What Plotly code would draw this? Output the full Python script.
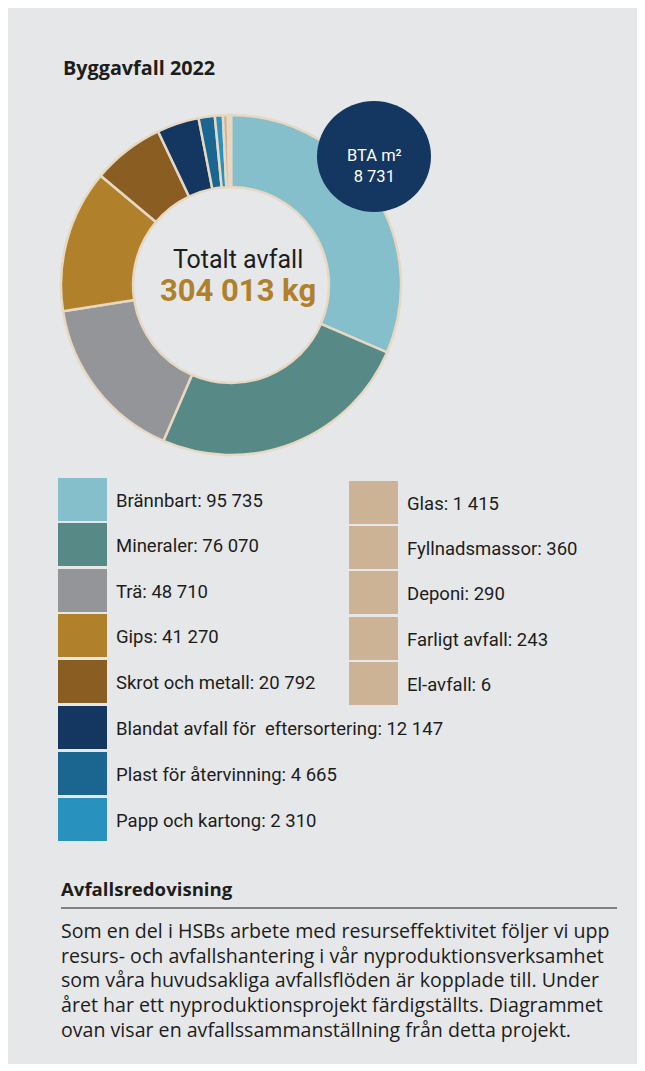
import plotly.graph_objects as go

# the page adds an 8 px body margin, figure sits inside it
W, H = 630, 1056
OFF = 8

# data
categories = ["Brännbart", "Mineraler", "Trä", "Gips", "Skrot och metall",
              "Blandat avfall för  eftersortering", "Plast för återvinning",
              "Papp och kartong", "Glas", "Fyllnadsmassor", "Deponi",
              "Farligt avfall", "El-avfall"]
values = [95735, 76070, 48710, 41270, 20792, 12147, 4665, 2310, 1415, 360, 290, 243, 6]
value_labels = ["95 735", "76 070", "48 710", "41 270", "20 792", "12 147", "4 665",
                "2 310", "1 415", "360", "290", "243", "6"]
colors = ["#85bfcc", "#578a86", "#939598", "#b0812a", "#8a5e22", "#143761", "#1b6691",
          "#2891be", "#cdb395", "#cdb395", "#cdb395", "#cdb395", "#cdb395"]
total_label = "304 013 kg"
bta_label = "8 731"
body_lines = [
    "Som en del i HSBs arbete med resurseffektivitet följer vi upp",
    "resurs- och avfallshantering i vår nyproduktionsverksamhet",
    "som våra huvudsakliga avfallsflöden är kopplade till. Under",
    "året har ett nyproduktionsprojekt färdigställts. Diagrammet",
    "ovan visar en avfallssammanställning från detta projekt.",
]

font = "Roboto"
font_wide = "Open Sans"
ink = "#1d1d1b"
beige_line = "#e6d8c2"


def px(x):
    return (x - OFF) / W


def py(y):
    return 1 - (y - OFF) / H


def label(x, y, text, size, color=ink, xanchor="center", family=font, align="center"):
    return dict(x=px(x), y=py(y), xref="paper", yref="paper",
                xanchor=xanchor, yanchor="middle", align=align, text=text,
                showarrow=False, font=dict(family=family, size=size, color=color))


fig = go.Figure()

fig.add_trace(go.Pie(
    labels=categories,
    values=values,
    sort=False,
    direction="clockwise",
    rotation=0,
    hole=0.576,
    marker=dict(colors=colors, line=dict(color=beige_line, width=2.5)),
    textinfo="none",
    showlegend=False,
    domain=dict(x=[px(61), px(401)], y=[py(455), py(115)]),
))

shapes = []
annotations = []

# BTA circle
shapes.append(dict(type="circle", xref="paper", yref="paper",
                   x0=px(317), x1=px(431), y0=py(212), y1=py(101),
                   fillcolor="#143761", line=dict(width=0)))
annotations.append(label(374, 166, "BTA m²<br>" + bta_label, 16.5, "white"))

# title
annotations.append(label(61, 68, "<b>Byggavfall 2022</b>", 19.8, xanchor="left",
                         family=font_wide))

# center text, one block so the two lines share spacing
center_text = ("<span style='font-size:25px'>Totalt avfall</span><br>"
               "<span style='font-size:31px;color:#b0812a'><b>" + total_label + "</b></span>")
annotations.append(label(238, 277, center_text, 25.4))

# legend
left_tops = [478, 523, 569, 614, 660, 706, 752, 798]
right_tops = [481, 526, 571, 617, 662]
for i, (cat, lab, col) in enumerate(zip(categories, value_labels, colors)):
    if i < len(left_tops):
        top = left_tops[i]
        x0, x1, tx = 58, 107, 114
    else:
        top = right_tops[i - len(left_tops)]
        x0, x1, tx = 349, 398, 405
    shapes.append(dict(type="rect", xref="paper", yref="paper",
                       x0=px(x0), x1=px(x1), y0=py(top + 43), y1=py(top),
                       fillcolor=col, line=dict(width=0)))
    annotations.append(label(tx, top + 23, cat + ": " + lab, 18.5, xanchor="left"))

# bottom text block
annotations.append(label(59, 888, "<b>Avfallsredovisning</b>", 18.6, xanchor="left",
                         family=font_wide))
shapes.append(dict(type="line", xref="paper", yref="paper",
                   x0=px(61), x1=px(617), y0=py(908), y1=py(908),
                   line=dict(color=ink, width=1.2)))
body = "<br>".join("<span style='font-size:19.6px'>" + ln + "</span>" for ln in body_lines)
annotations.append(label(59, 980, body, 19, xanchor="left", family=font_wide, align="left"))

fig.update_layout(
    width=W, height=H,
    margin=dict(l=0, r=0, t=0, b=0),
    paper_bgcolor="#e6e7e9",
    plot_bgcolor="#e6e7e9",
    shapes=shapes,
    annotations=annotations,
    showlegend=False,
)

fig.write_html("out.html")
